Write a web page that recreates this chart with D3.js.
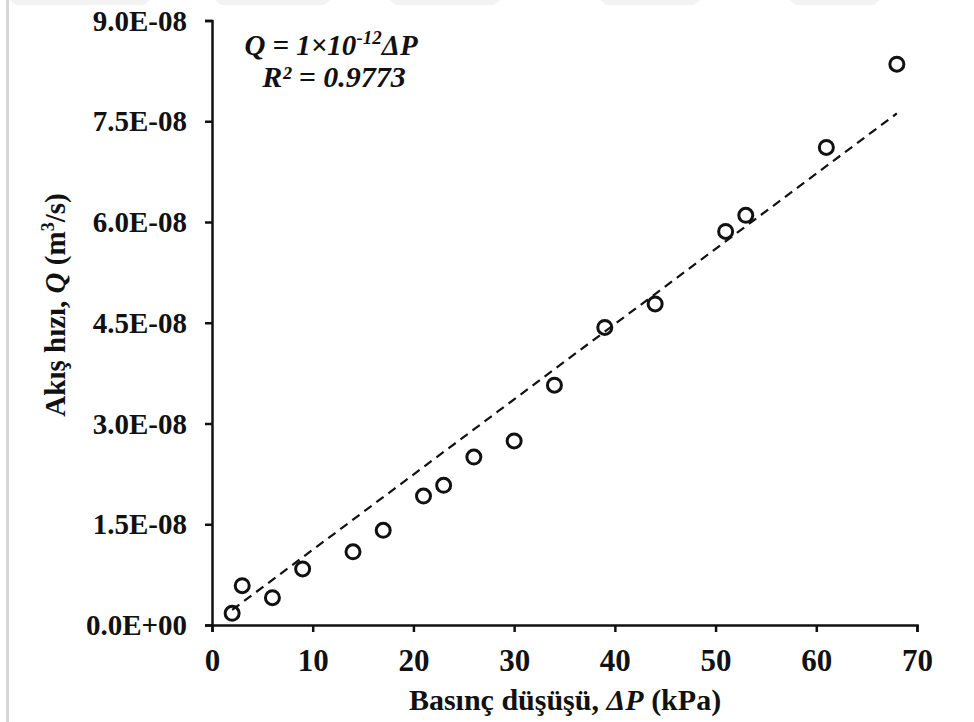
<!DOCTYPE html>
<html>
<head>
<meta charset="utf-8">
<script src="https://cdn.jsdelivr.net/npm/d3@7"></script>
<style>
  body { margin: 0; background: #fff; }
  svg { display: block; }
  text { font-family: "Liberation Serif", "Times New Roman", serif; font-weight: bold; fill: #111; }
</style>
</head>
<body>
<div id="chart"></div>
<script>
  // pressure drop (kPa) and flow rate (m3/s)
  var pressureDrop = [2, 3, 6, 9, 14, 17, 21, 23, 26, 30, 34, 39, 44, 51, 53, 61, 68];
  var flowRate = [1.74e-9, 5.85e-9, 4.06e-9, 8.34e-9, 1.09e-8, 1.41e-8, 1.92e-8, 2.08e-8, 2.50e-8,
                  2.74e-8, 3.57e-8, 4.43e-8, 4.78e-8, 5.86e-8, 6.10e-8, 7.11e-8, 8.35e-8];
  var xTicks = [0, 10, 20, 30, 40, 50, 60, 70];
  var yTicks = [0, 1.5e-8, 3.0e-8, 4.5e-8, 6.0e-8, 7.5e-8, 9.0e-8];
  var trendSlope = 1.12e-9;      // fitted line through origin, per kPa
  var trendRange = [2, 68];

  var width = 974, height = 722;
  var svg = d3.select("#chart").append("svg").attr("width", width).attr("height", height);

  // faint page border / watermark bits from the scan
  svg.append("rect").attr("x", 6).attr("y", 0).attr("width", 3).attr("height", height).attr("fill", "#d6d6d6");
  [[10, 150], [215, 330], [390, 500], [600, 700], [790, 880]].forEach(function(s) {
    svg.append("path")
      .attr("d", "M" + s[0] + ",0H" + s[1] + "L" + (s[1] - 6) + ",5H" + (s[0] + 6) + "Z")
      .attr("fill", "#f3f3f3");
  });

  var x = d3.scaleLinear().domain([0, 70]).range([212, 917]);
  var y = d3.scaleLinear().domain([0, 9e-8]).range([625, 20.5]);

  var fmt = function(d) {
    if (d === 0) return "0.0E+00";
    var s = d.toExponential(1).toUpperCase().split("E");
    var e = +s[1];
    return s[0] + "E" + (e < 0 ? "-" : "+") + d3.format("02d")(Math.abs(e));
  };

  var xAxis = svg.append("g").attr("transform", "translate(0," + y(0) + ")")
    .call(d3.axisBottom(x).tickValues(xTicks).tickSize(7).tickSizeOuter(7).tickFormat(d3.format("d")));
  xAxis.selectAll("text").attr("y", 46).attr("dy", null).style("font-size", "31px");

  var yAxis = svg.append("g").attr("transform", "translate(" + x(0) + ",0)")
    .call(d3.axisLeft(y).tickValues(yTicks).tickSize(7).tickSizeOuter(7).tickPadding(18).tickFormat(fmt));
  yAxis.selectAll("text").attr("dy", "0.33em").style("font-size", "29px");

  svg.selectAll(".domain, .tick line").attr("stroke", "#111").attr("stroke-width", 2.5);

  // trend line
  svg.append("line")
    .attr("x1", x(trendRange[0])).attr("y1", y(trendSlope * trendRange[0]))
    .attr("x2", x(trendRange[1])).attr("y2", y(trendSlope * trendRange[1]))
    .attr("stroke", "#111").attr("stroke-width", 2.2).attr("stroke-dasharray", "9,6");

  // points
  svg.append("g").selectAll("circle").data(pressureDrop).enter().append("circle")
    .attr("cx", function(d) { return x(d); })
    .attr("cy", function(d, i) { return y(flowRate[i]); })
    .attr("r", 7)
    .attr("fill", "none").attr("stroke", "#111").attr("stroke-width", 3);

  // equation
  var eq = svg.append("text").attr("x", 331).attr("y", 55).attr("text-anchor", "middle")
    .style("font-size", "29px").style("font-style", "italic");
  eq.append("tspan").text("Q = 1\u00d710");
  eq.append("tspan").attr("dy", -11).style("font-size", "19px").text("-12");
  eq.append("tspan").attr("dy", 11).text("\u0394P");
  svg.append("text").attr("x", 334).attr("y", 87).attr("text-anchor", "middle")
    .style("font-size", "30px").style("font-style", "italic").text("R\u00b2 = 0.9773");

  // axis titles
  var xt = svg.append("text").attr("x", 565).attr("y", 710).attr("text-anchor", "middle").style("font-size", "30px");
  xt.append("tspan").text("Basınç düşüşü, ");
  xt.append("tspan").style("font-style", "italic").text("\u0394P");
  xt.append("tspan").text(" (kPa)");

  var yt = svg.append("text").attr("transform", "translate(65,305) rotate(-90)")
    .attr("text-anchor", "middle").style("font-size", "29px");
  yt.append("tspan").text("Akış hızı, ");
  yt.append("tspan").style("font-style", "italic").text("Q");
  yt.append("tspan").text(" (m");
  yt.append("tspan").attr("dy", -11).style("font-size", "18px").text("3");
  yt.append("tspan").attr("dy", 11).text("/s)");
</script>
</body>
</html>
